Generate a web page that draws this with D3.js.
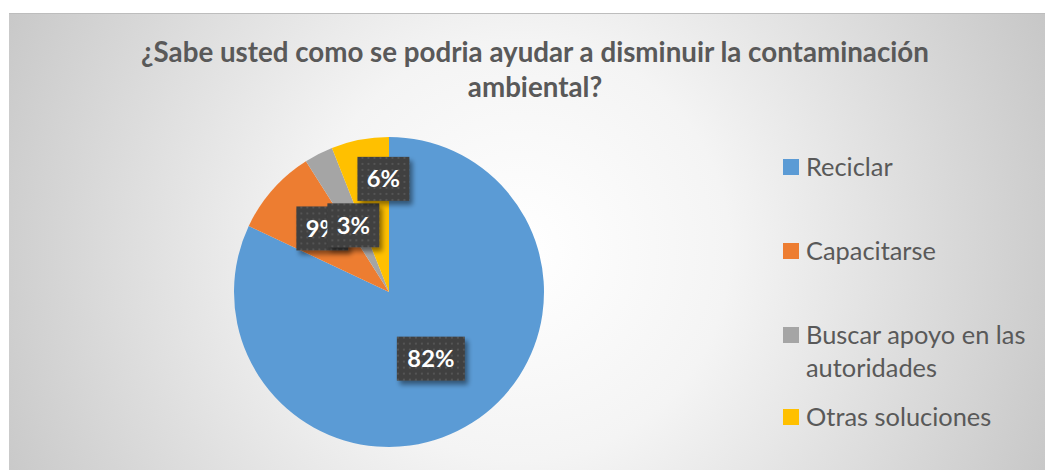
<!DOCTYPE html>
<html><head><meta charset="utf-8">
<script src="https://cdn.jsdelivr.net/npm/d3@7/dist/d3.min.js"></script>
<style>body{margin:0;background:#fff;}svg{display:block;}</style>
</head><body>
<svg id="c" width="1045" height="470"></svg>
<script>
const categories = ["Reciclar", "Capacitarse", "Buscar apoyo en las autoridades", "Otras soluciones"];
const legendLines = [["Reciclar"], ["Capacitarse"], ["Buscar apoyo en las", "autoridades"], ["Otras soluciones"]];
const values = [82, 9, 3, 6];
const colors = ["#5B9BD5", "#ED7D31", "#A5A5A5", "#FFC000"];
const titleLines = ["¿Sabe usted como se podria ayudar a disminuir la contaminación", "ambiental?"];
// label box centre offsets from pie centre, in units of radius (layout, Excel best fit)
const labelOffset = [[0.27, 0.43], [-0.43, -0.41], [-0.23, -0.43], [-0.036, -0.73]];

const FONT = "Lato, 'Open Sans', sans-serif";
const svg = d3.select("#c");
const defs = svg.append("defs");
const rg = defs.append("radialGradient").attr("id","bg")
  .attr("gradientUnits","userSpaceOnUse").attr("cx",520).attr("cy",250).attr("r",600);
rg.append("stop").attr("offset","0").attr("stop-color","#ffffff");
rg.append("stop").attr("offset","0.35").attr("stop-color","#f4f4f4");
rg.append("stop").attr("offset","1").attr("stop-color","#c4c4c4");
const pat = defs.append("pattern").attr("id","dots").attr("patternUnits","userSpaceOnUse")
  .attr("width",6).attr("height",6);
pat.append("rect").attr("width",6).attr("height",6).attr("fill","#3f3f3f");
pat.append("rect").attr("x",2).attr("y",2).attr("width",2).attr("height",2).attr("fill","#555555");
const filt = defs.append("filter").attr("id","sh").attr("x","-20%").attr("y","-20%").attr("width","150%").attr("height","150%");
filt.append("feGaussianBlur").attr("in","SourceAlpha").attr("stdDeviation",2.5).attr("result","b");
filt.append("feOffset").attr("in","b").attr("dx",3).attr("dy",4).attr("result","o");
filt.append("feComponentTransfer").attr("in","o").attr("result","o2").append("feFuncA").attr("type","linear").attr("slope",0.45);
const fm = filt.append("feMerge"); fm.append("feMergeNode").attr("in","o2"); fm.append("feMergeNode").attr("in","SourceGraphic");

svg.append("rect").attr("x",9).attr("y",13).attr("width",1040).attr("height",460).attr("fill","url(#bg)");
svg.append("line").attr("x1",9).attr("x2",1045).attr("y1",13.5).attr("y2",13.5).attr("stroke","#bdbdbd").attr("stroke-width",1);

// fit a text element's font size so its width matches a target width
function fit(sel, target){
  sel.each(function(){
    const w = this.getComputedTextLength();
    const fs = parseFloat(this.getAttribute("font-size"));
    this.setAttribute("font-size", (fs*target/w).toFixed(2));
  });
}

const tl = svg.append("g").selectAll("text").data(titleLines).join("text")
  .attr("x",535).attr("y",(d,i)=>62+i*35).attr("text-anchor","middle")
  .attr("font-family",FONT).attr("font-weight","bold").attr("font-size",20)
  .attr("fill","#595959").text(d=>d);
fit(tl.filter((d,i)=>i===0), 788);
tl.filter((d,i)=>i===1).attr("font-size", tl.filter((d,i)=>i===0).attr("font-size"));

const cx = 389, cy = 292, r = 155;
const pie = d3.pie().sort(null).value(d=>d);
const arcs = pie(values);
const arc = d3.arc().innerRadius(0).outerRadius(r);
const g = svg.append("g").attr("transform",`translate(${cx},${cy})`);
g.selectAll("path").data(arcs).join("path").attr("d",arc).attr("fill",(d,i)=>colors[i]);

const total = d3.sum(values);
const lab = g.append("g").selectAll("g").data(arcs).join("g")
  .attr("transform",(d,i)=>`translate(${labelOffset[i][0]*r},${labelOffset[i][1]*r})`);
lab.append("rect").attr("x",d=>d.data>=10?-34:-26).attr("y",-22)
  .attr("width",d=>d.data>=10?68:52).attr("height",44)
  .attr("fill","url(#dots)").attr("filter","url(#sh)");
const lt = lab.append("text").attr("text-anchor","middle").attr("dy","0.36em")
  .attr("font-family",FONT).attr("font-weight","bold").attr("font-size",20)
  .attr("fill","#ffffff").text(d=>Math.round(d.data/total*100)+"%");
fit(lt.filter((d,i)=>i===0), 47);
lt.attr("font-size", lt.filter((d,i)=>i===0).attr("font-size"));

const legendY = [167, 251, 335, 417];
const lg = svg.append("g").selectAll("g").data(categories).join("g")
  .attr("transform",(d,i)=>`translate(783,${legendY[i]})`);
lg.append("rect").attr("x",0).attr("y",-8).attr("width",16).attr("height",16).attr("fill",(d,i)=>colors[i]);
const lgt = lg.append("text").attr("font-family",FONT).attr("font-size",20).attr("fill","#595959");
lgt.selectAll("tspan").data((d,i)=>legendLines[i]).join("tspan")
  .attr("x",23).attr("y",(d,j)=>j*33).attr("dy","0.35em").text(d=>d);
fit(lgt.filter((d,i)=>i===1), 130);
lgt.attr("font-size", lgt.filter((d,i)=>i===1).attr("font-size"));
</script>
</body></html>
